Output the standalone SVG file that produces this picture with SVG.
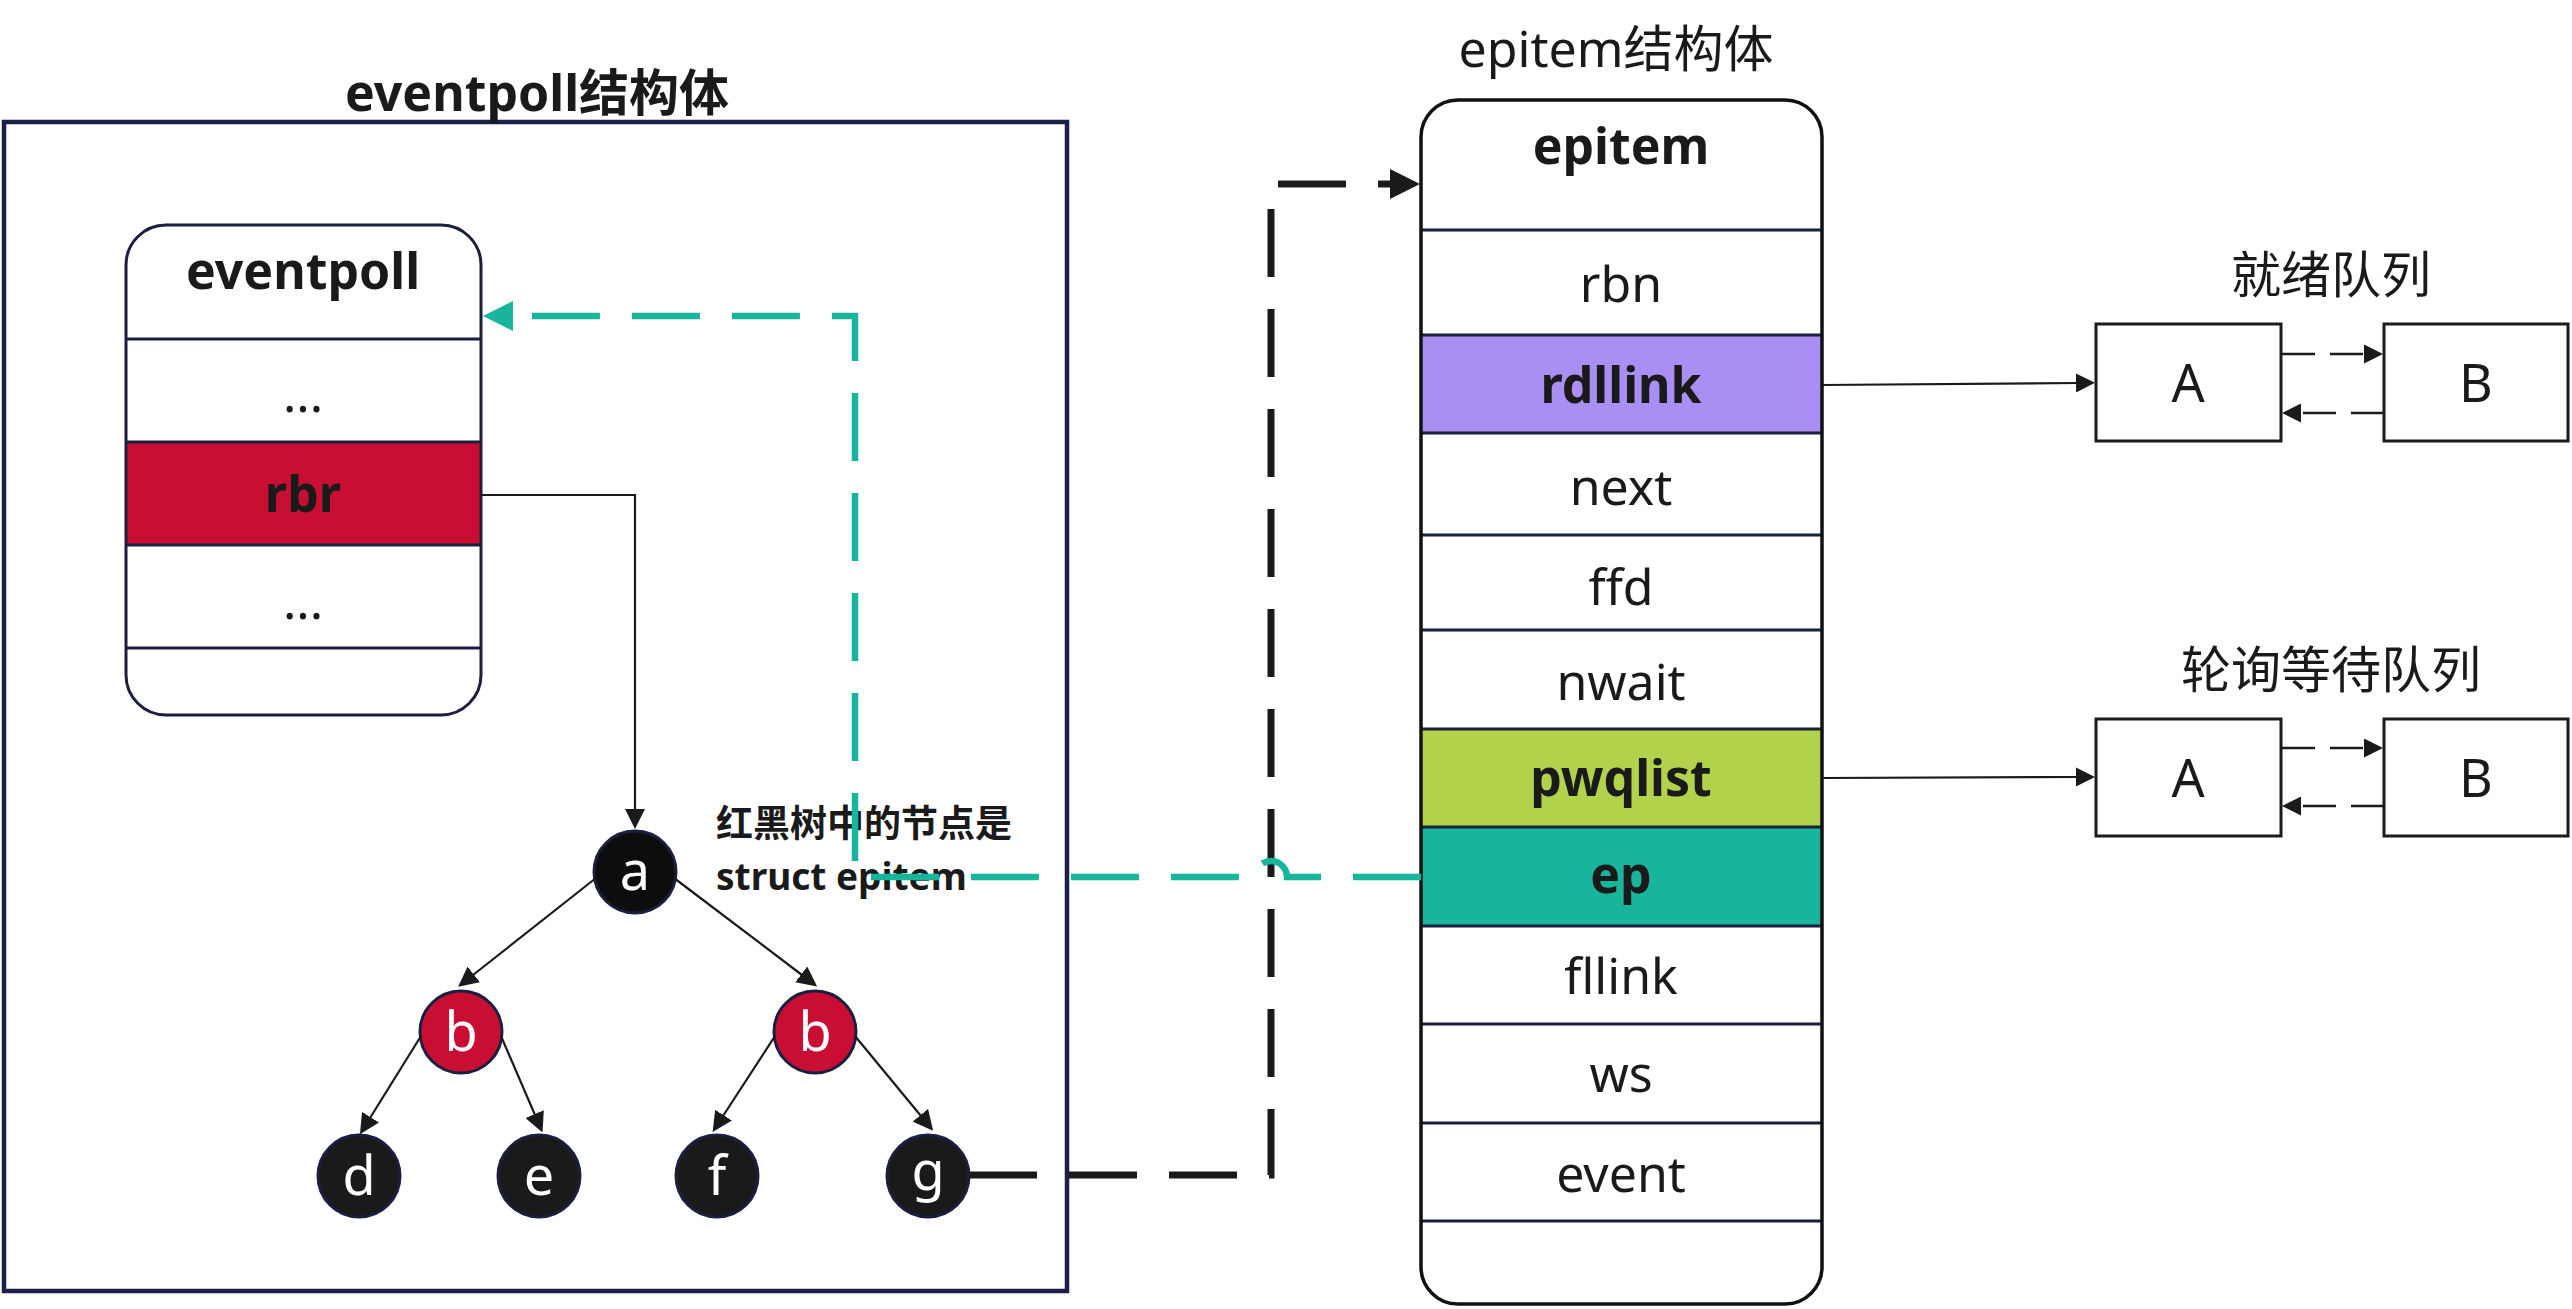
<svg xmlns="http://www.w3.org/2000/svg" width="2572" height="1309" viewBox="0 0 2572 1309">
<style>
.t{font-family:"Noto Sans","Noto Sans CJK SC",sans-serif;fill:#1a1a1a;font-size:50px;text-anchor:middle}
.b{font-weight:bold}
.w{fill:#ffffff;font-size:54px}
.row{stroke:#1b1f3f;stroke-width:3}
.node{stroke:#1b1f3f;stroke-width:3}
.thin{fill:none;stroke:#1a1a1a;stroke-width:2.2}
.qbox{fill:#ffffff;stroke:#1a1a1a;stroke-width:3}
.qd{fill:none;stroke:#1a1a1a;stroke-width:2.5;stroke-dasharray:33 15}
.bigd{fill:none;stroke:#1a1a1a;stroke-width:7;stroke-dasharray:68 32}
.teal{fill:none;stroke:#17b59b;stroke-width:6.5;stroke-dasharray:68 32}
</style>
<defs>
<marker id="ah" markerUnits="userSpaceOnUse" markerWidth="20" markerHeight="20" viewBox="0 0 20 20" refX="1" refY="10" orient="auto"><path d="M0,0 L20,10 L0,20 z" fill="#1a1a1a"/></marker>
<marker id="ahq" markerUnits="userSpaceOnUse" markerWidth="19" markerHeight="19" viewBox="0 0 19 19" refX="1" refY="9.5" orient="auto"><path d="M0,0 L19,9.5 L0,19 z" fill="#1a1a1a"/></marker>
<marker id="ahb" markerUnits="userSpaceOnUse" markerWidth="30" markerHeight="30" viewBox="0 0 30 30" refX="1" refY="15" orient="auto"><path d="M0,0 L30,15 L0,30 z" fill="#1a1a1a"/></marker>
<marker id="aht" markerUnits="userSpaceOnUse" markerWidth="30" markerHeight="30" viewBox="0 0 30 30" refX="1" refY="15" orient="auto"><path d="M0,0 L30,15 L0,30 z" fill="#17b59b"/></marker>
</defs>
<rect width="2572" height="1309" fill="#ffffff"/>

<g id="eventpoll-struct">
<rect x="4" y="122" width="1063" height="1169" fill="none" stroke="#1b1f4a" stroke-width="4.5"/>
<text class="t b" x="537" y="111">eventpoll结构体</text>
</g>

<g id="eventpoll">
<rect x="126" y="225" width="355" height="490" rx="40" fill="#ffffff"/>
<rect x="126" y="442" width="355" height="103" fill="#c80f33"/>
<line class="row" x1="126" y1="339" x2="481" y2="339"/>
<line class="row" x1="126" y1="442" x2="481" y2="442"/>
<line class="row" x1="126" y1="545" x2="481" y2="545"/>
<line class="row" x1="126" y1="648" x2="481" y2="648"/>
<rect x="126" y="225" width="355" height="490" rx="40" fill="none" stroke="#1b1f3f" stroke-width="3"/>
<text class="t b" x="303" y="289">eventpoll</text>
<text class="t" x="303" y="412">...</text>
<text class="t b" x="303" y="512">rbr</text>
<text class="t" x="303" y="619">...</text>
</g>

<g id="tree-a"><circle class="node" cx="635" cy="872" r="41" fill="#0d0d0d"/><text class="t w" x="635" y="890">a</text></g>
<g id="tree-b-left"><circle class="node" cx="461" cy="1032" r="41" fill="#c80f33"/><text class="t w" x="461" y="1051">b</text></g>
<g id="tree-b-right"><circle class="node" cx="815" cy="1032" r="41" fill="#c80f33"/><text class="t w" x="815" y="1051">b</text></g>
<g id="tree-d"><circle class="node" cx="359" cy="1176" r="41" fill="#1a1a1a"/><text class="t w" x="359" y="1195">d</text></g>
<g id="tree-e"><circle class="node" cx="539" cy="1176" r="41" fill="#1a1a1a"/><text class="t w" x="539" y="1195">e</text></g>
<g id="tree-f"><circle class="node" cx="717" cy="1176" r="41" fill="#1a1a1a"/><text class="t w" x="717" y="1195">f</text></g>
<g id="tree-g"><circle class="node" cx="928" cy="1176" r="41" fill="#1a1a1a"/><text class="t w" x="928" y="1190">g</text></g>

<g id="note">
<text class="t b" x="716" y="837" style="font-size:37px;text-anchor:start">红黑树中的节点是</text>
<text class="t b" x="716" y="890" style="font-size:37px;text-anchor:start">struct epitem</text>
</g>

<g id="epitem">
<text class="t" x="1616" y="67">epitem结构体</text>
<rect x="1421" y="100" width="401" height="1204" rx="37" fill="#ffffff"/>
<rect x="1421" y="335" width="401" height="98" fill="#a98ff3"/>
<rect x="1421" y="729" width="401" height="98" fill="#b3d24b"/>
<rect x="1421" y="827" width="401" height="99" fill="#17b59b"/>
<line class="row" x1="1421" y1="230" x2="1822" y2="230"/>
<line class="row" x1="1421" y1="335" x2="1822" y2="335"/>
<line class="row" x1="1421" y1="433" x2="1822" y2="433"/>
<line class="row" x1="1421" y1="535" x2="1822" y2="535"/>
<line class="row" x1="1421" y1="630" x2="1822" y2="630"/>
<line class="row" x1="1421" y1="729" x2="1822" y2="729"/>
<line class="row" x1="1421" y1="827" x2="1822" y2="827"/>
<line class="row" x1="1421" y1="926" x2="1822" y2="926"/>
<line class="row" x1="1421" y1="1024" x2="1822" y2="1024"/>
<line class="row" x1="1421" y1="1123" x2="1822" y2="1123"/>
<line class="row" x1="1421" y1="1221" x2="1822" y2="1221"/>
<rect x="1421" y="100" width="401" height="1204" rx="37" fill="none" stroke="#111111" stroke-width="3.5"/>
<text class="t b" x="1621" y="164">epitem</text>
<text class="t" x="1621" y="302">rbn</text>
<text class="t b" x="1621" y="403">rdllink</text>
<text class="t" x="1621" y="505">next</text>
<text class="t" x="1621" y="605">ffd</text>
<text class="t" x="1621" y="700">nwait</text>
<text class="t b" x="1621" y="796">pwqlist</text>
<text class="t b" x="1621" y="893">ep</text>
<text class="t" x="1621" y="994">fllink</text>
<text class="t" x="1621" y="1092">ws</text>
<text class="t" x="1621" y="1192">event</text>
</g>

<g id="ready-queue">
<text class="t" x="2331" y="293">就绪队列</text>
<g id="ready-A"><rect class="qbox" x="2096" y="324" width="185" height="117"/><text class="t" x="2188" y="402" style="font-size:52px">A</text></g>
<g id="ready-B"><rect class="qbox" x="2384" y="324" width="184" height="117"/><text class="t" x="2476" y="402" style="font-size:52px">B</text></g>
</g>

<g id="poll-queue">
<text class="t" x="2331" y="688">轮询等待队列</text>
<g id="poll-A"><rect class="qbox" x="2096" y="719" width="185" height="117"/><text class="t" x="2188" y="797" style="font-size:52px">A</text></g>
<g id="poll-B"><rect class="qbox" x="2384" y="719" width="184" height="117"/><text class="t" x="2476" y="797" style="font-size:52px">B</text></g>
</g>

<g id="connectors">
<path class="thin" d="M481,495 H635 V810" marker-end="url(#ah)"/>
<path class="thin" d="M596,878 L473,975" marker-end="url(#ah)"/>
<path class="thin" d="M674,878 L802,975" marker-end="url(#ah)"/>
<path class="thin" d="M421,1036 L370,1118" marker-end="url(#ah)"/>
<path class="thin" d="M501,1036 L535,1115" marker-end="url(#ah)"/>
<path class="thin" d="M775,1036 L723,1116" marker-end="url(#ah)"/>
<path class="thin" d="M855,1036 L921,1116" marker-end="url(#ah)"/>
<path class="thin" d="M1822,385 L2077,383" marker-end="url(#ahq)"/>
<path class="thin" d="M1822,778 L2077,777" marker-end="url(#ahq)"/>
<path class="qd" d="M2282,354 H2365" marker-end="url(#ahq)"/>
<path class="qd" d="M2384,413 H2300" marker-end="url(#ahq)"/>
<path class="qd" d="M2282,748 H2365" marker-end="url(#ahq)"/>
<path class="qd" d="M2384,806 H2300" marker-end="url(#ahq)"/>
<path class="bigd" d="M969,1175 H1271 V184 H1391" marker-end="url(#ahb)"/>
<path class="teal" d="M1421,877 H1287 A16,16 0 0 0 1255,877 H855 V316 H512" marker-end="url(#aht)"/>
</g>
</svg>
